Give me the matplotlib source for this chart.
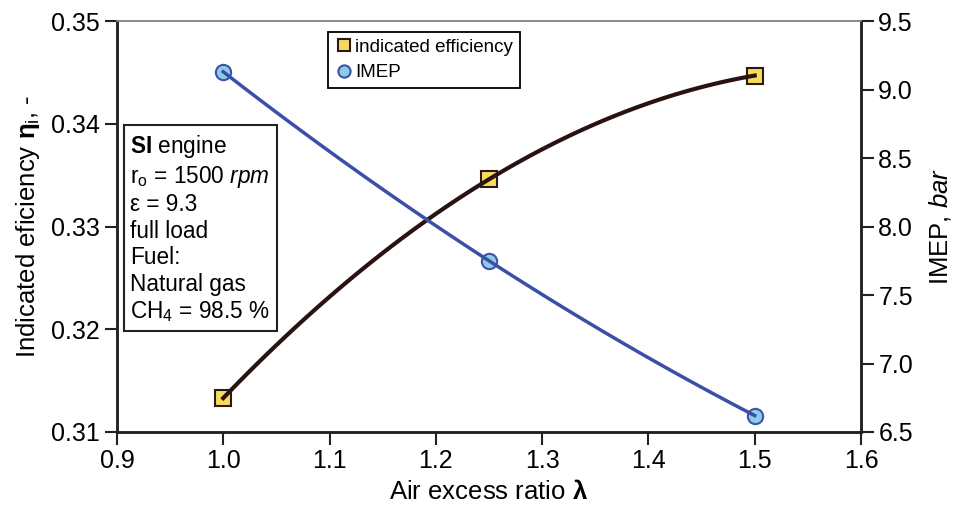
import matplotlib.pyplot as plt
import numpy as np

plt.rcParams['font.family'] = ['Liberation Sans', 'DejaVu Sans']
plt.rcParams['mathtext.fontset'] = 'custom'
plt.rcParams['mathtext.rm'] = 'Liberation Sans'
plt.rcParams['mathtext.it'] = 'Liberation Sans:italic'
plt.rcParams['mathtext.bf'] = 'Liberation Sans:bold'

# data
lam = [1.0, 1.25, 1.5]
eff = [0.3133, 0.3346, 0.3447]
imep = [9.13, 7.75, 6.62]

fig = plt.figure(figsize=(9.54, 5.15), dpi=100)
ax = fig.add_axes([0.1226, 0.1612, 0.7799, 0.7978])
ax2 = ax.twinx()

# trend curves (2nd order fit through the points)
xs = np.linspace(lam[0], lam[-1], 100)
pe = np.polyfit(lam, eff, 2)
pi = np.polyfit(lam, imep, 2)

ax.plot(lam, eff, 's', ms=11, mfc='#f7dc5c', mec='#2a1a14', mew=1.5,
        label='indicated efficiency', zorder=2)
ax.plot(xs, np.polyval(pe, xs), color='#2a1212', lw=3, zorder=3)

ax2.plot(lam, imep, 'o', ms=11, mfc='#8fcbe8', mec='#3a55a8', mew=1.5,
         label='IMEP', zorder=2)
ax2.plot(xs, np.polyval(pi, xs), color='#3a4fa8', lw=2.5, zorder=3)

ax.set_xlim(0.9, 1.6)
ax.set_ylim(0.31, 0.35)
ax2.set_ylim(6.5, 9.5)
ax.set_xticks(np.arange(0.9, 1.61, 0.1))
ax.set_xticklabels([f'{v:.1f}' for v in np.arange(0.9, 1.61, 0.1)])
ax.set_yticks(np.arange(0.31, 0.351, 0.01))
ax.set_yticklabels([f'{v:.2f}' for v in np.arange(0.31, 0.351, 0.01)])
ax2.set_yticks(np.arange(6.5, 9.51, 0.5))
ax2.set_yticklabels([f'{v:.1f}' for v in np.arange(6.5, 9.51, 0.5)])

for a in (ax, ax2):
    a.tick_params(labelsize=18, width=1.5, length=9, direction='out', color='#222222')
    for s in ('left', 'right', 'bottom'):
        a.spines[s].set_linewidth(1.8)
        a.spines[s].set_color('#222222')
    a.spines['top'].set_linewidth(1.2)
    a.spines['top'].set_color('#888888')

ax.set_xlabel(r'Air excess ratio $\mathbf{\lambda}$', fontsize=18.5, labelpad=5)
ax.set_ylabel(r'Indicated eficiency $\mathbf{\eta}_\mathrm{i}$, -', fontsize=18.5, labelpad=6)
ax2.set_ylabel(r'IMEP, $\mathit{bar}$', fontsize=18.5, labelpad=10)

h1, l1 = ax.get_legend_handles_labels()
h2, l2 = ax2.get_legend_handles_labels()
leg = ax2.legend(h1 + h2, l1 + l2, loc='upper left', bbox_to_anchor=(0.284, 0.973),
                 fontsize=13.5, fancybox=False, edgecolor='black', framealpha=1,
                 handletextpad=0.1, handlelength=1.0, borderpad=0.35, labelspacing=0.45,
                 markerscale=0.8, borderaxespad=0)
leg.get_frame().set_linewidth(1.3)

txt = ('$\\mathbf{SI}$ engine\n'
       'r$_\\mathrm{o}$ = 1500 $\\mathit{rpm}$\n'
       'ε = 9.3\n'
       'full load\n'
       'Fuel:\n'
       'Natural gas\n'
       'CH$_4$ = 98.5 %')
ax.text(0.018, 0.727, txt, transform=ax.transAxes, fontsize=16.3, va='top', ha='left',
        linespacing=1.19, zorder=5,
        bbox=dict(boxstyle='square,pad=0.3', fc='white', ec='#222222', lw=1.5))

fig.savefig('out.png', dpi=100)
